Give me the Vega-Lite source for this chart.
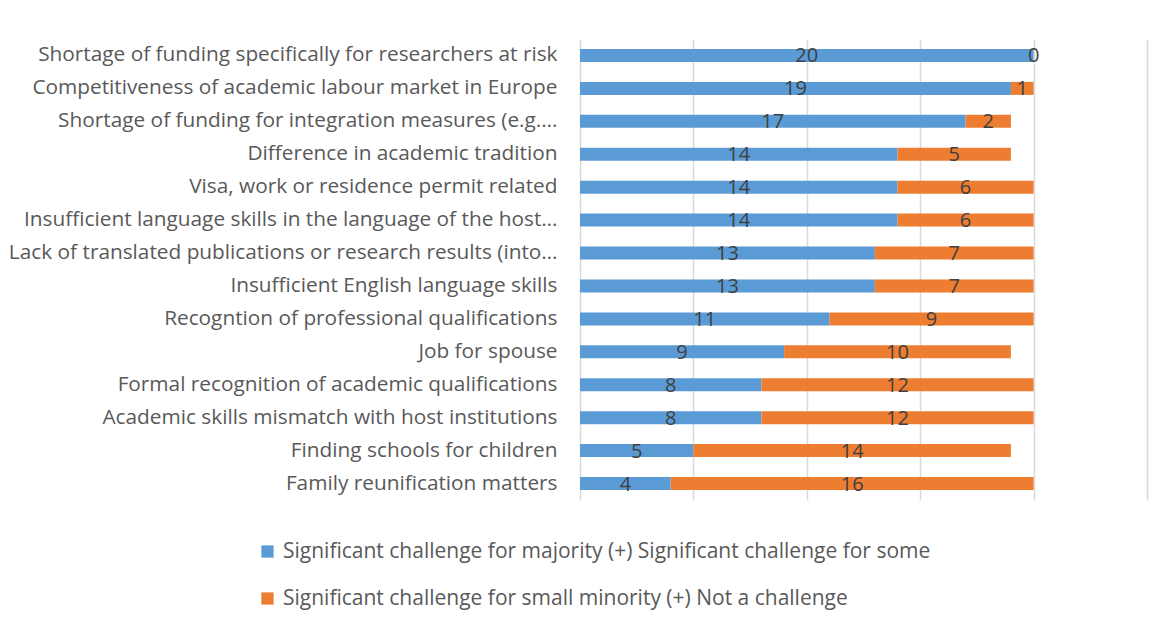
{
  "$schema": "https://vega.github.io/schema/vega-lite/v6.json",
  "autosize": {"type": "none"},
  "width": 567,
  "height": 461,
  "padding": {"left": 580, "top": 39, "right": 16, "bottom": 124},
  "background": "white",
  "config": {
    "font": "Open Sans",
    "view": {"stroke": null}
  },
  "data": {
    "values": [
      {"challenge": "Shortage of funding specifically for researchers at risk", "series": "Significant challenge for majority (+) Significant challenge for some", "value": 20},
      {"challenge": "Shortage of funding specifically for researchers at risk", "series": "Significant challenge for small minority (+) Not a challenge", "value": 0},
      {"challenge": "Competitiveness of academic labour market in Europe", "series": "Significant challenge for majority (+) Significant challenge for some", "value": 19},
      {"challenge": "Competitiveness of academic labour market in Europe", "series": "Significant challenge for small minority (+) Not a challenge", "value": 1},
      {"challenge": "Shortage of funding for integration measures (e.g.…", "series": "Significant challenge for majority (+) Significant challenge for some", "value": 17},
      {"challenge": "Shortage of funding for integration measures (e.g.…", "series": "Significant challenge for small minority (+) Not a challenge", "value": 2},
      {"challenge": "Difference in academic tradition", "series": "Significant challenge for majority (+) Significant challenge for some", "value": 14},
      {"challenge": "Difference in academic tradition", "series": "Significant challenge for small minority (+) Not a challenge", "value": 5},
      {"challenge": "Visa, work or residence permit related", "series": "Significant challenge for majority (+) Significant challenge for some", "value": 14},
      {"challenge": "Visa, work or residence permit related", "series": "Significant challenge for small minority (+) Not a challenge", "value": 6},
      {"challenge": "Insufficient language skills in the language of the host…", "series": "Significant challenge for majority (+) Significant challenge for some", "value": 14},
      {"challenge": "Insufficient language skills in the language of the host…", "series": "Significant challenge for small minority (+) Not a challenge", "value": 6},
      {"challenge": "Lack of translated publications or research results (into…", "series": "Significant challenge for majority (+) Significant challenge for some", "value": 13},
      {"challenge": "Lack of translated publications or research results (into…", "series": "Significant challenge for small minority (+) Not a challenge", "value": 7},
      {"challenge": "Insufficient English language skills", "series": "Significant challenge for majority (+) Significant challenge for some", "value": 13},
      {"challenge": "Insufficient English language skills", "series": "Significant challenge for small minority (+) Not a challenge", "value": 7},
      {"challenge": "Recogntion of professional qualifications", "series": "Significant challenge for majority (+) Significant challenge for some", "value": 11},
      {"challenge": "Recogntion of professional qualifications", "series": "Significant challenge for small minority (+) Not a challenge", "value": 9},
      {"challenge": "Job for spouse", "series": "Significant challenge for majority (+) Significant challenge for some", "value": 9},
      {"challenge": "Job for spouse", "series": "Significant challenge for small minority (+) Not a challenge", "value": 10},
      {"challenge": "Formal recognition of academic qualifications", "series": "Significant challenge for majority (+) Significant challenge for some", "value": 8},
      {"challenge": "Formal recognition of academic qualifications", "series": "Significant challenge for small minority (+) Not a challenge", "value": 12},
      {"challenge": "Academic skills mismatch with host institutions", "series": "Significant challenge for majority (+) Significant challenge for some", "value": 8},
      {"challenge": "Academic skills mismatch with host institutions", "series": "Significant challenge for small minority (+) Not a challenge", "value": 12},
      {"challenge": "Finding schools for children", "series": "Significant challenge for majority (+) Significant challenge for some", "value": 5},
      {"challenge": "Finding schools for children", "series": "Significant challenge for small minority (+) Not a challenge", "value": 14},
      {"challenge": "Family reunification matters", "series": "Significant challenge for majority (+) Significant challenge for some", "value": 4},
      {"challenge": "Family reunification matters", "series": "Significant challenge for small minority (+) Not a challenge", "value": 16}
    ]
  },
  "encoding": {
    "y": {
      "field": "challenge",
      "type": "nominal",
      "sort": null,
      "title": null,
      "scale": {"paddingInner": 0, "paddingOuter": 0},
      "axis": {
        "domain": false,
        "ticks": false,
        "grid": false,
        "labelFontSize": 20.8,
        "labelColor": "#595959",
        "labelPadding": 23,
        "labelLimit": 700
      }
    },
    "x": {
      "field": "value",
      "type": "quantitative",
      "stack": "zero",
      "title": null,
      "scale": {"domain": [0, 25], "nice": false},
      "axis": {
        "values": [0, 5, 10, 15, 20, 25],
        "labels": false,
        "ticks": false,
        "domain": false,
        "grid": true,
        "gridColor": "#d9d9d9",
        "gridWidth": 1.5
      }
    },
    "order": {"field": "series", "sort": "ascending"}
  },
  "layer": [
    {
      "mark": {"type": "bar", "size": 13},
      "encoding": {
        "color": {
          "field": "series",
          "type": "nominal",
          "scale": {
            "domain": ["Significant challenge for majority (+) Significant challenge for some", "Significant challenge for small minority (+) Not a challenge"],
            "range": ["#5B9BD5", "#ED7D31"]
          },
          "legend": {
            "orient": "none",
            "legendX": -323,
            "legendY": 502,
            "direction": "vertical",
            "title": null,
            "symbolType": "square",
            "symbolSize": 150,
            "symbolStrokeWidth": 0,
            "labelFontSize": 21,
            "labelColor": "#595959",
            "labelLimit": 900,
            "rowPadding": 25,
            "labelOffset": 5
          }
        }
      }
    },
    {
      "mark": {"type": "text", "fontSize": 20, "color": "#404040", "baseline": "middle", "align": "center", "dy": 1},
      "encoding": {
        "x": {"field": "value", "type": "quantitative", "stack": "zero", "bandPosition": 0.5},
        "detail": {"field": "series"},
        "text": {"field": "value", "type": "quantitative"}
      }
    }
  ]
}
